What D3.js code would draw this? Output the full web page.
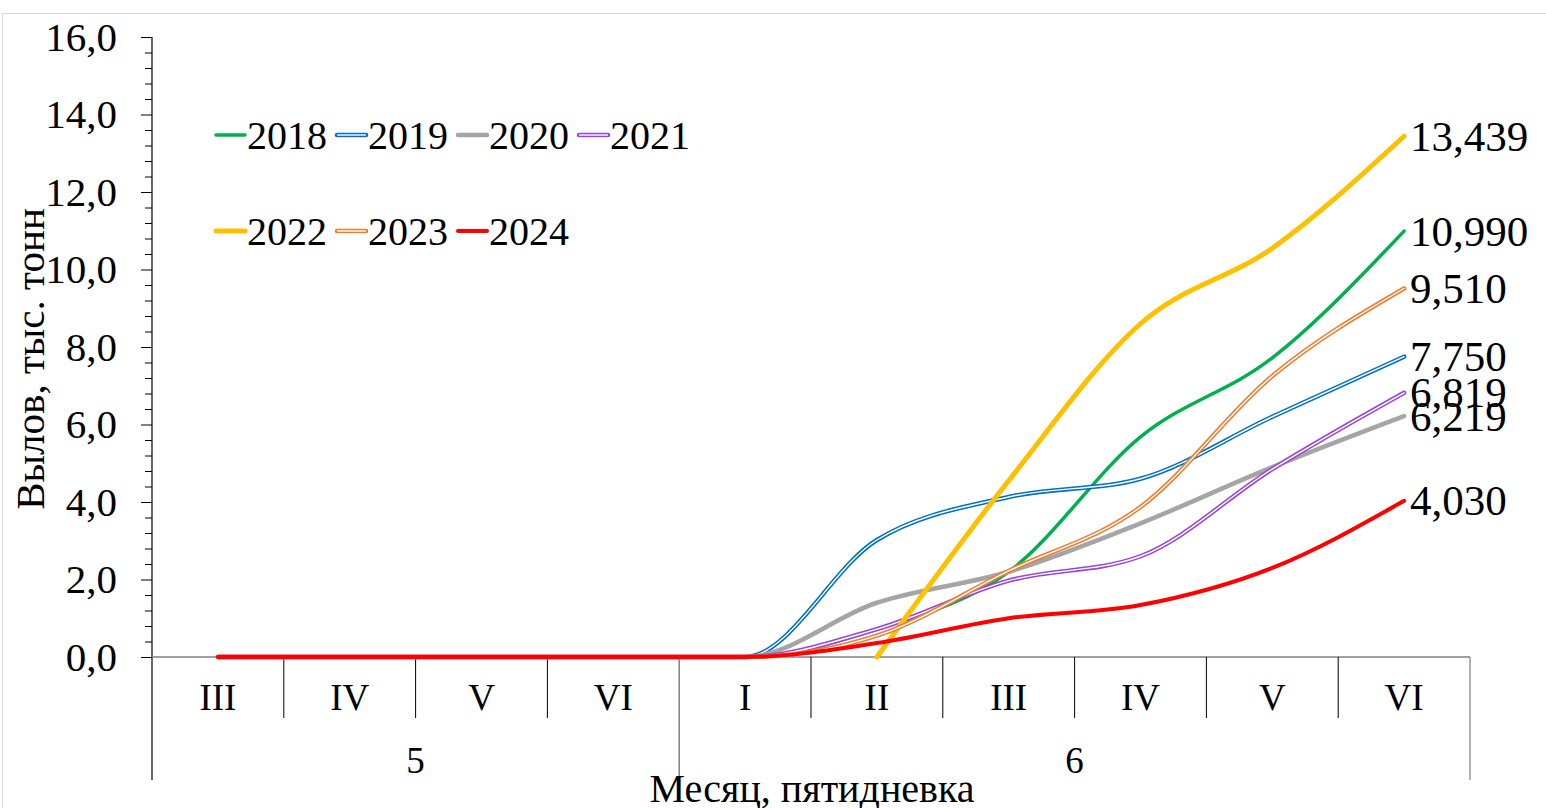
<!DOCTYPE html>
<html><head><meta charset="utf-8">
<script src="https://cdn.jsdelivr.net/npm/d3@7/dist/d3.min.js"></script>
<style>
html,body{margin:0;padding:0;background:#fff;}
svg text{font-family:"Liberation Serif","Times New Roman",Times,"DejaVu Serif",serif !important;fill:#000;}
</style></head>
<body>
<svg id="chart" width="1546" height="808"></svg>
<script>
// ---- data ----
const months = ["5","5","5","5","6","6","6","6","6","6"];
const monthLabels = ["5","6"];
const pentads = ["III","IV","V","VI","I","II","III","IV","V","VI"];
const years = ["2018","2019","2020","2021","2022","2023","2024"];
const v2018 = [0,0,0,0,0,0.72,2.2,5.68,7.72,10.990];
const v2019 = [0,0,0,0,0,3.02,4.13,4.6,6.2,7.750];
const v2020 = [0,0,0,0,0,1.4,2.2,3.45,4.9,6.219];
const v2021 = [0,0,0,0,0,0.72,1.97,2.6,4.85,6.819];
const v2022 = [null,null,null,null,null,0,4.55,8.6,10.55,13.439];
const v2023 = [0,0,0,0,0,0.55,2.22,3.87,7.25,9.510];
const v2024 = [0,0,0,0,0,0.36,1.0,1.34,2.3,4.030];
const endLabels = ["10,990","7,750","6,219","6,819","13,439","9,510","4,030"];
const yTicks = [0,2,4,6,8,10,12,14,16];

const seriesValues = [v2018,v2019,v2020,v2021,v2022,v2023,v2024];
const styles = [
  {color:"#00B050", w:3.5, dbl:false},
  {color:"#0070C0", w:4.5, dbl:true},
  {color:"#A5A5A5", w:4.5, dbl:false},
  {color:"#9747D6", w:4.5, dbl:true},
  {color:"#FFC000", w:5, dbl:false},
  {color:"#ED7D31", w:4.5, dbl:true},
  {color:"#FF0000", w:4, dbl:false}
];

const FONT = '"Liberation Serif", "Times New Roman", Times, "DejaVu Serif", serif';
const svg = d3.select("#chart");
const W = 1546, H = 808;
const pL = 152, pR = 1470, pT = 37, pB = 657;

// chart area border
svg.append("rect").attr("x",2.5).attr("y",13.5).attr("width",W+10).attr("height",H+10)
  .attr("fill","none").attr("stroke","#D9D9D9").attr("stroke-width",1);

const keys = pentads.map((p,i)=>months[i]+"-"+p);
const x = d3.scaleBand().domain(keys).range([pL,pR]).padding(0);
const y = d3.scaleLinear().domain([0,16]).range([pB,pT]);
const cx = i => x(keys[i]) + x.bandwidth()/2;

const loc = d3.formatLocale({decimal:",",thousands:" ",grouping:[3],currency:["",""]});
const f1 = loc.format(".1f");

// minor ticks
const minor = d3.range(0,16.0001,0.4).filter(v=>Math.abs(v/2-Math.round(v/2))>1e-6);
svg.append("g").attr("transform",`translate(${pL},0)`)
  .call(d3.axisLeft(y).tickValues(minor).tickSize(7).tickFormat(""))
  .call(g=>g.select(".domain").remove())
  .call(g=>g.selectAll("line").attr("stroke","#000"));

// major axis
const ya = svg.append("g").attr("transform",`translate(${pL},0)`)
  .call(d3.axisLeft(y).tickValues(yTicks).tickSize(11).tickPadding(24).tickFormat(f1))
  .attr("font-family",FONT);
ya.select(".domain").remove();
ya.selectAll("line").attr("stroke","#000");
ya.selectAll("text").attr("font-size",41).attr("fill","#000");

// y axis line down to bottom of category area
svg.append("line").attr("x1",pL).attr("x2",pL).attr("y1",pT).attr("y2",780)
  .attr("stroke","#000").attr("stroke-width",1.2);

// x baseline
svg.append("line").attr("x1",pL).attr("x2",pR).attr("y1",pB).attr("y2",pB)
  .attr("stroke","#808080").attr("stroke-width",1.5);

// category separators
keys.forEach((k,i)=>{
  if(i===0) return;
  const xx = x(k);
  const isMonth = months[i]!==months[i-1];
  svg.append("line").attr("x1",xx).attr("x2",xx).attr("y1",pB).attr("y2",isMonth?780:718)
    .attr("stroke",isMonth?"#808080":"#000").attr("stroke-width",isMonth?1.5:1);
});
svg.append("line").attr("x1",pR).attr("x2",pR).attr("y1",pB).attr("y2",780)
  .attr("stroke","#808080").attr("stroke-width",1.2);

const T = (sel)=>sel.append("text").attr("font-family",FONT);

// category labels
pentads.forEach((p,i)=>{
  T(svg).attr("x",cx(i)).attr("y",697).attr("text-anchor","middle")
    .attr("dominant-baseline","central").attr("font-size",37).text(p);
});
// month labels
monthLabels.forEach(m=>{
  const idx = months.map((mm,i)=>mm===m?i:-1).filter(i=>i>=0);
  const x0 = x(keys[idx[0]]), x1 = x(keys[idx[idx.length-1]]) + x.bandwidth();
  T(svg).attr("x",(x0+x1)/2).attr("y",760).attr("text-anchor","middle")
    .attr("dominant-baseline","central").attr("font-size",37).text(m);
});

// axis titles
T(svg).attr("x",812).attr("y",802).attr("text-anchor","middle")
  .attr("font-size",40).text("Месяц, пятидневка");
T(svg).attr("transform","translate(30,359) rotate(-90)").attr("text-anchor","middle")
  .attr("dominant-baseline","central").attr("font-size",41).text("Вылов, тыс. тонн");

// lines
const line = d3.line().x(d=>cx(d.i)).y(d=>y(d.v)).curve(d3.curveMonotoneX);
seriesValues.forEach((vals,s)=>{
  const st = styles[s];
  const pts = vals.map((v,i)=>({i,v})).filter(d=>d.v!==null);
  svg.append("path").attr("d",line(pts)).attr("fill","none").attr("stroke",st.color)
    .attr("stroke-width",st.w).attr("stroke-linecap","round").attr("stroke-linejoin","round");
  if(st.dbl){
    svg.append("path").attr("d",line(pts)).attr("fill","none").attr("stroke","#fff")
      .attr("stroke-width",1.4).attr("stroke-linecap","round");
  }
});

// end labels
seriesValues.forEach((vals,s)=>{
  const last = vals.length-1;
  T(svg).attr("x",cx(last)+6).attr("y",y(vals[last])).attr("dominant-baseline","central")
    .attr("font-size",43).text(endLabels[s]);
});

// legend
years.forEach((yr,s)=>{
  const row = s<4?0:1, col = s<4?s:s-4;
  const lx = 216 + col*121, ly = row===0?135:231;
  const st = styles[s];
  svg.append("line").attr("x1",lx).attr("x2",lx+29).attr("y1",ly).attr("y2",ly)
    .attr("stroke",st.color).attr("stroke-width",st.w).attr("stroke-linecap","round");
  if(st.dbl){
    svg.append("line").attr("x1",lx).attr("x2",lx+29).attr("y1",ly).attr("y2",ly)
      .attr("stroke","#fff").attr("stroke-width",1.4);
  }
  T(svg).attr("x",lx+31).attr("y",ly).attr("dominant-baseline","central")
    .attr("font-size",40).text(yr);
});
</script>
</body></html>
